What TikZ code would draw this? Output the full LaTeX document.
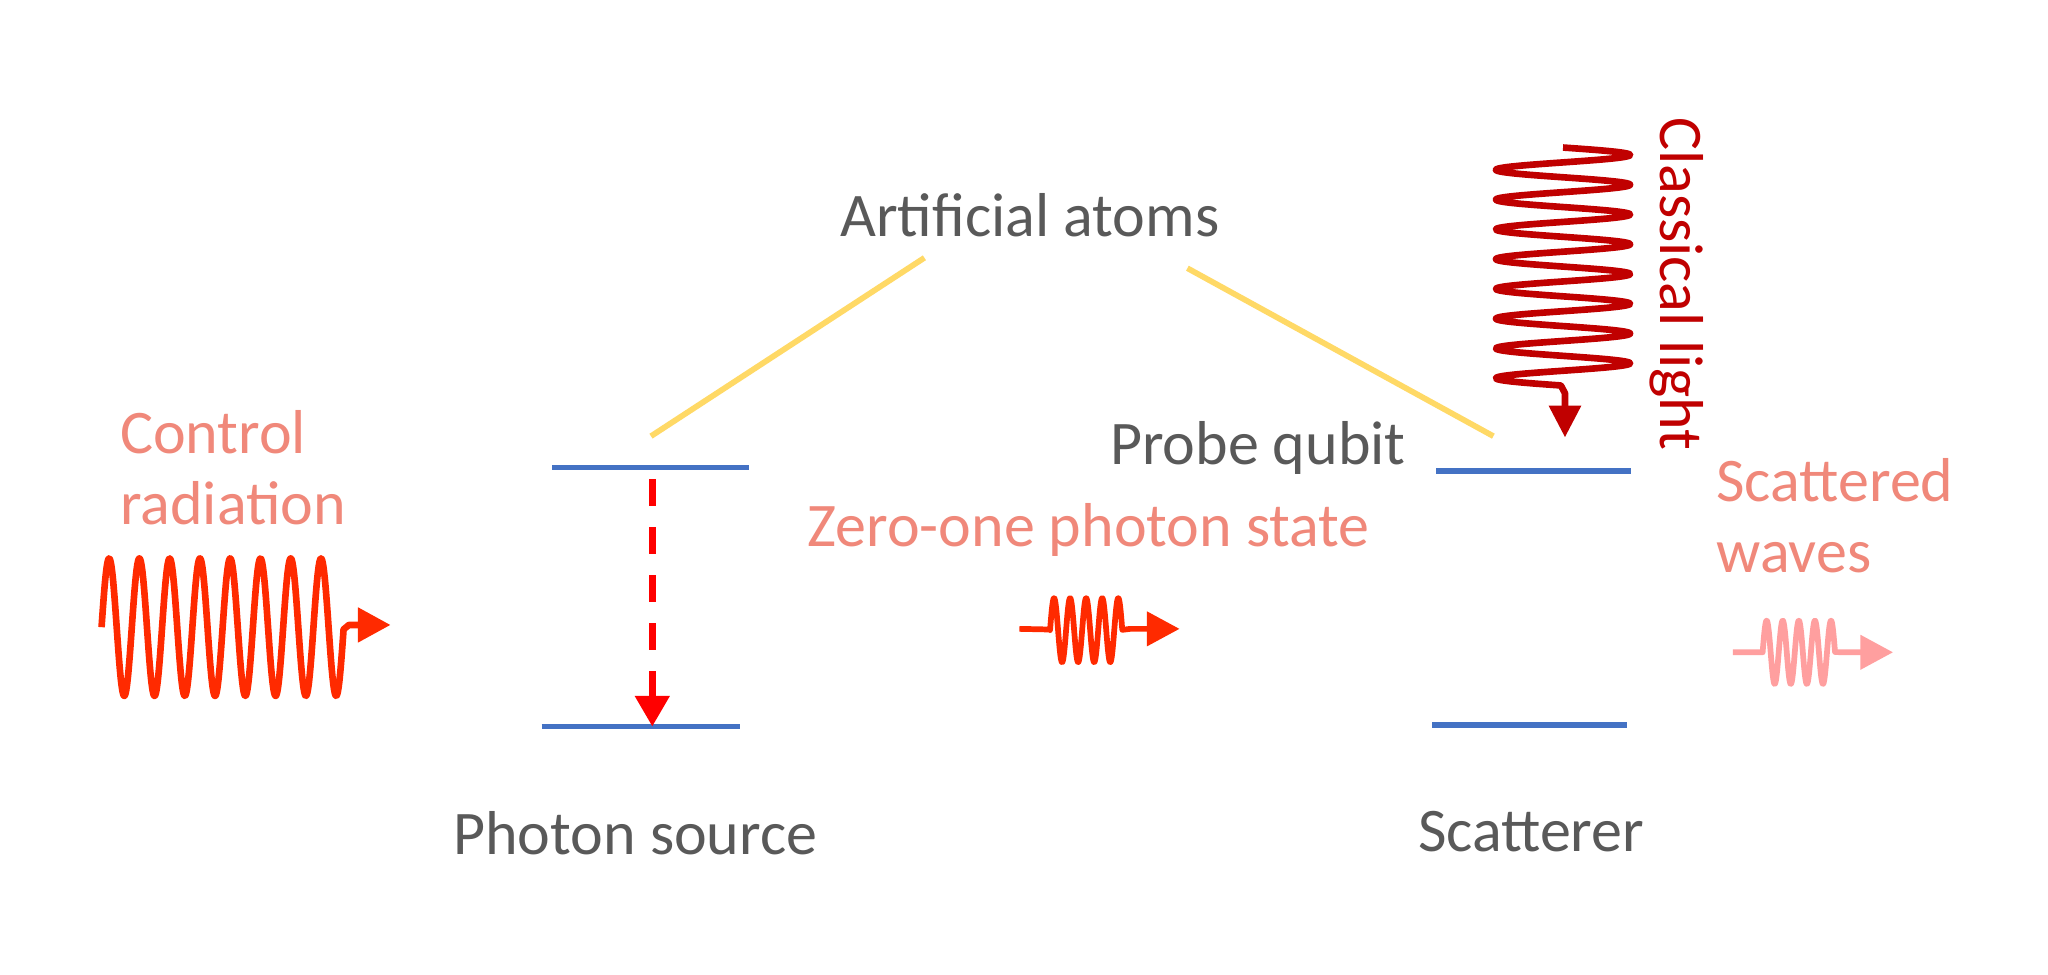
\documentclass[tikz,border=0pt]{standalone}
\usepackage{fontspec}
\setmainfont{Carlito}
\usetikzlibrary{arrows.meta}
\definecolor{txtgray}{HTML}{595959}
\definecolor{salmon}{HTML}{F0887A}
\definecolor{wavered}{HTML}{FF2A00}
\definecolor{clred}{HTML}{C00000}
\definecolor{scatpink}{HTML}{FF9F9F}
\definecolor{goldline}{HTML}{FFD966}
\definecolor{levelblue}{HTML}{4472C4}
\begin{document}
\begin{tikzpicture}[x=0.651pt,y=-0.651pt,
  lbl/.style={inner sep=0pt, font=\fontsize{31}{36}\selectfont},
  level/.style={draw=levelblue, line width=2.86pt},
  guide/.style={draw=goldline, line width=2.86pt},
  bigtip/.style={-{Triangle[length=16.3pt,width=16.7pt]}},
  wavebig/.style={line width=3.32pt, line join=round, bigtip},
  wavesmall/.style={line width=2.86pt, line join=round, bigtip}]
\fill[white] (0,0) rectangle (1573,748.8);
\useasboundingbox (0,0) rectangle (1573,748.8);

% labels
\node[lbl,text=txtgray,anchor=base] (atoms) at (791,182) {Artificial atoms};
\node[lbl,text=salmon,anchor=base west] (ctrlA) at (92,348) {Control};
\node[lbl,text=salmon,anchor=base west] (ctrlB) at (92,403) {radiation};
\node[lbl,text=salmon,anchor=base west] (zero) at (620,420) {Zero-one photon state};
\node[lbl,text=txtgray,anchor=base east] (probe) at (1080,357) {Probe qubit};
\node[lbl,text=salmon,anchor=base west] (scatA) at (1318,385) {Scattered};
\node[lbl,text=salmon,anchor=base west] (scatB) at (1318,440) {waves};
\node[lbl,text=txtgray,anchor=base] (src) at (488,656) {Photon source};
\node[lbl,text=txtgray,anchor=base] (scat) at (1176,654) {Scatterer};
\node[lbl,text=clred,anchor=base west,rotate=-90] (classical) at (1275,89.6) {Classical light};

% energy levels
\coordinate (sUa) at (424,359); \coordinate (sUb) at (575,359);
\coordinate (sLa) at (416,558); \coordinate (sLb) at (568,558);
\coordinate (rUa) at (1103,362); \coordinate (rUb) at (1253,362);
\coordinate (rLa) at (1100,557); \coordinate (rLb) at (1250,557);
\draw[level] (sUa) -- (sUb);
\draw[level] (sLa) -- (sLb);
\draw[level] (rUa) -- (rUb);
\draw[level] (rLa) -- (rLb);

% guide lines from label to atoms
\coordinate (gLa) at (710,198); \coordinate (gLb) at (500,335);
\coordinate (gRa) at (912,206); \coordinate (gRb) at (1147,335);
\draw[guide] (gLa) -- (gLb);
\draw[guide] (gRa) -- (gRb);

% emission (dashed)
\coordinate (emA) at (501,368); \coordinate (emB) at (501,558);
\draw[draw=red, line width=3.32pt, dash pattern=on 13.35pt off 10.68pt,
      -{Triangle[length=15.3pt,width=16.7pt]}] (emA) -- (emB);

% control radiation wave
\coordinate (cw) at (78,481.7);
\draw[wavebig, draw=wavered] plot[domain=0:8, samples=500]
   ({78+\x*23.25},{481.7-52.8*sin(\x*360)}) -- (268,480) -- (300,480);

% zero-one photon wave
\coordinate (zw) at (783,483);
\draw[wavesmall, draw=wavered] (zw) -- (806.5,483.5) -- plot[domain=0:4.5, samples=300]
   ({806.5+\x*12.33},{484-24.6*sin(\x*360)}) -- (868,483) -- (906,483);

% scattered wave
\coordinate (sw) at (1331,501);
\draw[wavesmall, draw=scatpink] (sw) -- (1353.8,501) -- plot[domain=0:4.5, samples=300]
   ({1353.8+\x*12.36},{501-24.3*sin(\x*360)}) -- (1415,501) -- (1454,501);

% classical light wave
\coordinate (kw) at (1200.5,113.3);
\draw[draw=clred, line width=3.32pt, line join=round,
      -{Triangle[length=15.9pt,width=15.4pt]}] plot[domain=0:8, samples=500]
   ({1200.5+51.5*sin(\x*360)},{113.3+\x*22.86}) -- (1202,302) -- (1202,336);
\end{tikzpicture}
\end{document}
